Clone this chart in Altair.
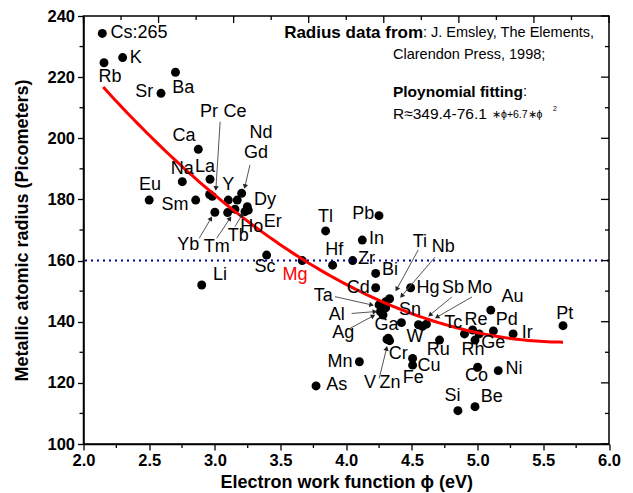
import math
import altair as alt
import pandas as pd

FONT = "Liberation Sans"
W, H = 525.5, 428.0
XMIN, XMAX, YMIN, YMAX = 2.0, 6.0, 100.0, 240.0
PX_X = W / (XMAX - XMIN)
PX_Y = H / (YMAX - YMIN)

# ---- data points (element, work function eV, radius pm) ----
pt_name = ["Cs", "K", "Rb", "Ba", "Sr", "Ca", "Na", "La", "Pr", "Ce", "Sm", "Eu", "Y", "Nd", "Gd",
           "Dy", "Yb", "Tm", "Tb", "Ho", "Er", "Sc", "Li",
           "Tl", "Pb", "In", "Mg", "Hf", "Zr", "Bi", "Cd", "Hg", "Ti", "Nb", "Ta", "Sn", "Al", "Ag",
           "Ga", "W", "Sb", "Mo", "Cr", "V", "Zn", "Ru", "Cu", "Fe", "Mn", "As", "Si", "Be", "Co",
           "Ni", "Tc", "Re", "Rh", "Ge", "Pd", "Ir", "Au", "Pt"]
pt_x = [2.143, 2.298, 2.156, 2.70, 2.59, 2.874, 2.752, 2.963, 2.96, 2.98, 2.854, 2.50, 3.102, 3.17, 3.204,
        3.247, 3.00, 3.097, 3.153, 3.229, 3.254, 3.394, 2.90,
        3.843, 4.249, 4.122, 3.665, 3.896, 4.049, 4.224, 4.224, 4.49, 4.33, 4.30, 4.25, 4.30, 4.26, 4.28,
        4.42, 4.55, 4.58, 4.61, 4.31, 4.33, 4.32, 4.71, 4.505, 4.505, 4.10, 3.77, 4.85, 4.98, 5.00,
        5.157, 4.90, 4.962, 4.98, 5.012, 5.12, 5.27, 5.10, 5.65]
pt_y = [234.3, 226.4, 224.7, 221.6, 214.7, 196.4, 185.8, 186.6, 181.6, 181.0, 179.8, 179.8, 179.8, 179.8, 182.0,
        177.6, 175.8, 175.7, 176.8, 176.0, 176.5, 161.8, 152.0,
        169.7, 174.7, 166.7, 160.0, 158.5, 160.0, 155.8, 151.1, 151.1, 147.5, 146.5, 145.5, 144.5, 143.3, 142.2,
        139.7, 139.0, 138.5, 139.2, 134.2, 133.8, 134.6, 134.0, 128.0, 125.8, 126.9, 119.0, 110.9, 112.2, 125.1,
        124.0, 136.0, 137.3, 134.0, 136.0, 137.0, 136.0, 143.8, 138.7]

# ---- labels (text, x, y in data units) ----
lb_text = ["Cs:265", "K", "Rb", "Sr", "Ba", "Pr", "Ce", "Ca", "Nd", "Gd", "Na", "La", "Y", "Eu", "Sm",
           "Dy", "Er", "Ho", "Tb", "Yb", "Tm", "Sc", "Li",
           "Tl", "Pb", "In", "Hf", "Zr", "Bi", "Cd", "Ti", "Nb", "Hg", "Sb", "Mo", "Ta", "Sn", "Al", "Ag",
           "Ga", "W", "Tc", "Re", "Pd", "Au", "Pt", "Ir", "Ge", "Rh", "Ru", "Co", "Ni", "Cr", "Cu", "Fe",
           "Mn", "V", "Zn", "As", "Si", "Be"]
lb_x = [2.422, 2.397, 2.202, 2.463, 2.760, 2.955, 3.153, 2.765, 3.351, 3.313, 2.752, 2.925, 3.102, 2.506, 2.696,
        3.381, 3.440, 3.280, 3.178, 2.798, 3.014, 3.381, 3.039,
        3.843, 4.129, 4.231, 3.909, 4.155, 4.333, 4.091, 4.561, 4.738, 4.622, 4.812, 5.017, 3.825, 4.485, 3.927, 3.977,
        4.307, 4.523, 4.814, 4.987, 5.221, 5.266, 5.664, 5.378, 5.119, 4.964, 4.700, 4.992, 5.276, 4.396, 4.630, 4.510,
        3.952, 4.180, 4.333, 3.927, 4.808, 5.107]
lb_y = [234.4, 226.2, 219.9, 215.2, 216.3, 208.6, 208.6, 200.7, 201.7, 195.3, 189.9, 190.5, 184.7, 184.7, 178.2,
        179.8, 172.7, 171.1, 168.0, 165.1, 164.5, 157.9, 155.3,
        174.3, 175.1, 167.0, 163.5, 160.4, 156.9, 150.9, 166.2, 164.3, 151.0, 151.0, 151.0, 148.4, 143.8, 142.2, 136.2,
        139.0, 135.1, 139.5, 140.6, 140.6, 148.0, 142.4, 136.2, 133.1, 130.6, 130.7, 122.2, 124.4, 129.6, 125.6, 121.6,
        126.9, 120.0, 119.8, 119.3, 115.7, 115.5]

# Mg label (red)
mg_x, mg_y = [3.610], [155.3]

# ---- leader arrows (start -> tip) ----
ar_x1 = [3.040, 3.267, 2.881, 3.014, 3.153, 4.548, 4.675, 3.914, 4.041, 4.028, 4.804, 4.957, 4.251]
ar_y1 = [205.4, 191.3, 167.3, 167.3, 171.1, 163.5, 161.1, 148.2, 142.7, 137.8, 148.1, 148.1, 121.5]
ar_x2 = [3.008, 3.229, 2.970, 3.115, 3.206, 4.384, 4.422, 4.193, 4.218, 4.205, 4.637, 4.690, 4.307]
ar_y2 = [183.6, 184.2, 173.8, 173.8, 174.9, 150.6, 148.4, 145.5, 143.3, 141.9, 142.2, 141.5, 131.3]

# ---- polynomial fit R = a + b*phi + c*phi^2 ----
fit_coef = [349.4, -76.1, 6.7]
fit_range = [2.15, 5.65]

# ---- axis ticks ----
x_major = [2.0, 2.5, 3.0, 3.5, 4.0, 4.5, 5.0, 5.5, 6.0]
x_minor = [2.25, 2.75, 3.25, 3.75, 4.25, 4.75, 5.25, 5.75]
y_major = [100, 120, 140, 160, 180, 200, 220, 240]
y_minor = [110, 130, 150, 170, 190, 210, 230]
top_intervals = 7

xs = alt.Scale(domain=[XMIN, XMAX], nice=False, zero=False)
ys = alt.Scale(domain=[YMIN, YMAX], nice=False, zero=False)

AX = alt.Axis(values=x_major, format=".1f", title="Electron work function \u03d5 (eV)",
              labelFont=FONT, labelFontSize=16.5, labelFontWeight="bold", labelColor="black",
              titleFont=FONT, titleFontSize=18, titleFontWeight="bold", titleColor="black",
              tickSize=6, tickColor="black", tickWidth=1.3, domainColor="black", domainWidth=1.5,
              labelPadding=2, titlePadding=5, grid=False, labelFlush=False)
AY = alt.Axis(values=y_major, format="d", title="Metallic atomic radius (Picometers)",
              labelFont=FONT, labelFontSize=16.5, labelFontWeight="bold", labelColor="black",
              titleFont=FONT, titleFontSize=18, titleFontWeight="bold", titleColor="black",
              tickSize=6, tickColor="black", tickWidth=1.3, domainColor="black", domainWidth=1.5,
              labelPadding=3, titlePadding=15, grid=False, labelFlush=False)

pts = pd.DataFrame({"name": pt_name, "x": pt_x, "y": pt_y})
labels = pd.DataFrame({"t": lb_text, "x": lb_x, "y": lb_y})
mg = pd.DataFrame({"t": ["Mg"], "x": mg_x, "y": mg_y})

n = 120
fx = [fit_range[0] + (fit_range[1] - fit_range[0]) * i / (n - 1) for i in range(n)]
fy = [fit_coef[0] + fit_coef[1] * v + fit_coef[2] * v * v for v in fx]
fit = pd.DataFrame({"x": fx, "y": fy})

arrows = pd.DataFrame({"x": ar_x1, "y": ar_y1, "x2": ar_x2, "y2": ar_y2})
ang = []
for a, b, c, d in zip(ar_x1, ar_y1, ar_x2, ar_y2):
    dx = (c - a) * PX_X
    dy = -(d - b) * PX_Y
    ang.append(math.degrees(math.atan2(dx, -dy)) % 360)
arrows["ang"] = ang


def X(f="x"):
    return alt.X(f"{f}:Q", scale=xs, axis=AX)


def Y(f="y"):
    return alt.Y(f"{f}:Q", scale=ys, axis=AY)


points = alt.Chart(pts).mark_circle(size=80, color="black", opacity=1).encode(x=X(), y=Y())

dotted = alt.Chart(pd.DataFrame({"y": [160]})).mark_rule(
    color="#0000A0", strokeWidth=2, strokeDash=[2, 4]).encode(y=Y())

curve = alt.Chart(fit).mark_line(color="#FF0000", strokeWidth=3).encode(x=X(), y=Y())

lead = alt.Chart(arrows).mark_rule(color="#555555", strokeWidth=1).encode(
    x=X(), y=Y(), x2="x2:Q", y2="y2:Q")
heads = alt.Chart(arrows).mark_point(shape="triangle-up", filled=True, size=28,
                                     color="#222222", opacity=1).encode(
    x=X("x2"), y=Y("y2"), angle=alt.Angle("ang:Q", scale=None))

lab = alt.Chart(labels).mark_text(font=FONT, fontSize=18, color="black",
                                  baseline="middle", align="center").encode(
    x=X(), y=Y(), text="t:N")
mglab = alt.Chart(mg).mark_text(font=FONT, fontSize=18, color="#FF0000",
                                baseline="middle", align="center").encode(
    x=X(), y=Y(), text="t:N")


def vticks(vals, x0, x1, w=1.3):
    return alt.Chart(pd.DataFrame({"y": vals})).mark_rule(color="black", strokeWidth=w).encode(
        y=Y(), x=alt.value(x0), x2=alt.value(x1))


def hticks(vals, y0, y1, w=1.3):
    return alt.Chart(pd.DataFrame({"x": vals})).mark_rule(color="black", strokeWidth=w).encode(
        x=X(), y=alt.value(y0), y2=alt.value(y1))


top_major = [XMIN + k * (XMAX - XMIN) / top_intervals for k in range(top_intervals + 1)]
top_minor = [XMIN + (k + 0.5) * (XMAX - XMIN) / top_intervals for k in range(top_intervals)]

ticks = [
    vticks(y_minor, -4, 0),
    hticks(x_minor, H, H + 4),
    hticks(top_major, 0, 7),
    hticks(top_minor, 0, 4),
    vticks(y_major, W, W - 8),
    vticks(y_minor, W, W - 4),
]

one = pd.DataFrame({"a": [0]})


def note(txt, px, py, size=14.5, weight="normal", align="left"):
    return alt.Chart(one).mark_text(font=FONT, fontSize=size, fontWeight=weight, color="black",
                                    align=align, baseline="middle").encode(
        x=alt.value(px), y=alt.value(py), text=alt.value(txt))


notes = [
    note("Radius data from", 339.5, 17, size=17, weight="bold", align="right"),
    note(": J. Emsley, The Elements,", 339.5, 17),
    note("Clarendon Press, 1998;", 309.5, 39),
    note("Ploynomial fitting", 439.5, 76, size=15.5, weight="bold", align="right"),
    note(":", 439.5, 76),
    note("R\u2248349.4-76.1", 309.5, 98, size=15.5),
    note("\u2217\u03d5+6.7\u2217\u03d5", 408.5, 99, size=10.5),
    note("2", 469.5, 93, size=7),
]

chart = alt.layer(points, dotted, curve, lead, heads, lab, mglab, *ticks, *notes).properties(
    width=W, height=H,
    autosize=alt.AutoSizeParams(type="none"),
    padding={"left": 75.5, "top": 8, "right": 16, "bottom": 49},
).configure_view(stroke="black", strokeWidth=1.5)

chart.save("out.html", embed_options={"renderer": "svg", "actions": False})
